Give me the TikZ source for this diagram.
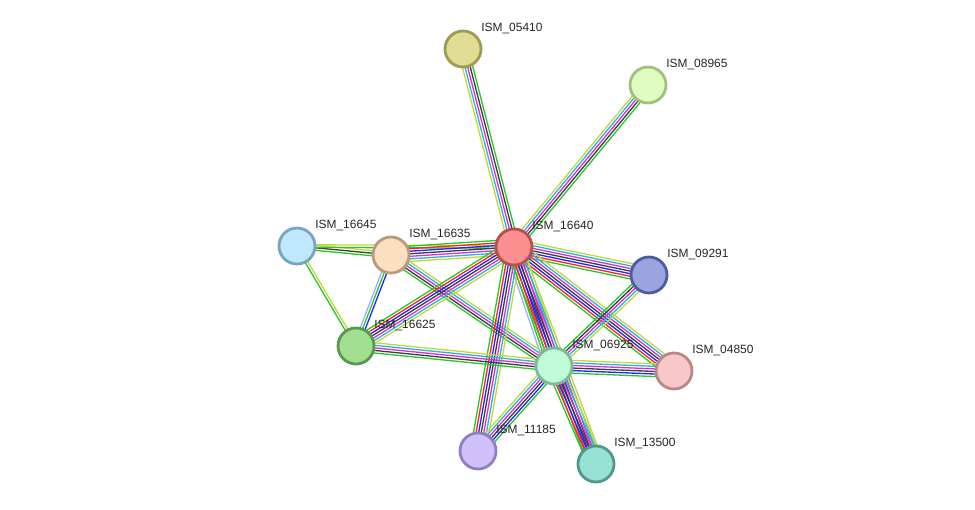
\documentclass[tikz,border=0pt]{standalone}
\usepackage{fontspec}
\setmainfont{Liberation Sans}
\usepackage{xcolor}
\usetikzlibrary{calc, math, backgrounds}
% evidence colours
\definecolor{txtm}{RGB}{196,214,58}
\definecolor{dbase}{RGB}{40,182,222}
\definecolor{expt}{RGB}{218,48,220}
\definecolor{coex}{RGB}{62,62,62}
\definecolor{cooc}{RGB}{36,36,255}
\definecolor{fusn}{RGB}{255,36,36}
\definecolor{nbhd}{RGB}{40,200,40}
\definecolor{homo}{RGB}{168,168,255}
% node colours
\definecolor{f05410}{RGB}{224,220,148}\definecolor{d05410}{RGB}{158,154,85}
\definecolor{f08965}{RGB}{224,252,192}\definecolor{d08965}{RGB}{160,192,128}
\definecolor{f16645}{RGB}{192,232,252}\definecolor{d16645}{RGB}{120,164,192}
\definecolor{f16635}{RGB}{252,222,192}\definecolor{d16635}{RGB}{184,154,124}
\definecolor{f16640}{RGB}{252,144,144}\definecolor{d16640}{RGB}{180,80,80}
\definecolor{f09291}{RGB}{156,164,224}\definecolor{d09291}{RGB}{80,90,160}
\definecolor{f16625}{RGB}{160,224,144}\definecolor{d16625}{RGB}{90,154,80}
\definecolor{f06925}{RGB}{192,252,216}\definecolor{d06925}{RGB}{128,184,152}
\definecolor{f04850}{RGB}{248,200,200}\definecolor{d04850}{RGB}{184,136,136}
\definecolor{f11185}{RGB}{208,192,252}\definecolor{d11185}{RGB}{144,128,192}
\definecolor{f13500}{RGB}{152,224,212}\definecolor{d13500}{RGB}{80,152,140}
% one bundle of parallel lines between two nodes
\newcommand{\bundle}[3]{%
  \def\nlin{0}%
  \foreach \c in {#3}{\pgfmathtruncatemacro\tmp{\nlin+1}\global\let\nlin\tmp}%
  \foreach \c [count=\i] in {#3}{%
    \pgfmathsetmacro\off{(\i-(\nlin+1)/2)*\gap}%
    \draw[\c, line width=\lw pt] ($(#1)!\off pt!90:(#2)$) -- ($(#2)!\off pt!-90:(#1)$);
  }}

\begin{document}
\begin{tikzpicture}[x=0.02cm, y=-0.02cm,
  prot/.style={circle, minimum size=0.72cm, inner sep=0pt, line width=1.6pt},
  lbl/.style={anchor=west, inner sep=0pt, text=black!85, font=\fontsize{6.8}{8}\selectfont}]
\tikzmath{
\gap=1.45;
\lw=0.75;
}
\useasboundingbox (0,0) rectangle (975,510);

%proteins
\node[prot, fill=f05410, draw=d05410] (n05410) at (463,49) {};
\node[prot, fill=f08965, draw=d08965] (n08965) at (648,85) {};
\node[prot, fill=f16645, draw=d16645] (n16645) at (297,246) {};
\node[prot, fill=f16635, draw=d16635] (n16635) at (391,255) {};
\node[prot, fill=f16640, draw=d16640] (n16640) at (514,247) {};
\node[prot, fill=f09291, draw=d09291] (n09291) at (649,275) {};
\node[prot, fill=f16625, draw=d16625] (n16625) at (356,346) {};
\node[prot, fill=f06925, draw=d06925] (n06925) at (554,366) {};
\node[prot, fill=f04850, draw=d04850] (n04850) at (674,371) {};
\node[prot, fill=f11185, draw=d11185] (n11185) at (478,451) {};
\node[prot, fill=f13500, draw=d13500] (n13500) at (596,464) {};

%labels
\foreach \p in {05410,08965,16645,16635,16640,09291,16625,06925,04850,11185,13500}
  \node[lbl] (t\p) at ($(n\p)+(18,-20)$) {ISM\_\p};

%edges
\begin{pgfonlayer}{background}
\bundle{n05410}{n16640}{txtm,dbase,expt,coex,nbhd}
\bundle{n08965}{n16640}{txtm,dbase,expt,coex,nbhd}
\bundle{n16635}{n16645}{txtm,coex,nbhd}
\bundle{n16640}{n16645}{txtm,nbhd}
\bundle{n16625}{n16645}{txtm,nbhd}
\bundle{n16635}{n16640}{txtm,dbase,expt,coex,cooc,fusn,nbhd}
\bundle{n16625}{n16635}{cooc,nbhd,homo}
\bundle{n06925}{n16635}{txtm,dbase,expt,coex,nbhd}
\bundle{n16625}{n16640}{txtm,dbase,expt,coex,cooc,fusn,nbhd}
\bundle{n09291}{n16640}{txtm,dbase,expt,coex,cooc,fusn,nbhd}
\bundle{n04850}{n16640}{txtm,dbase,expt,coex,cooc,fusn,nbhd}
\bundle{n06925}{n16640}{txtm,dbase,expt,coex,cooc,fusn,nbhd,homo}
\bundle{n11185}{n16640}{txtm,dbase,expt,coex,cooc,fusn,nbhd}
\bundle{n13500}{n16640}{txtm,dbase,expt,coex,cooc,fusn,nbhd}
\bundle{n06925}{n16625}{txtm,dbase,expt,coex,nbhd}
\bundle{n06925}{n09291}{txtm,dbase,expt,coex,nbhd}
\bundle{n04850}{n06925}{txtm,dbase,expt,coex,cooc,nbhd}
\bundle{n06925}{n11185}{txtm,dbase,expt,coex,cooc,nbhd}
\bundle{n13500}{n06925}{txtm,dbase,expt,coex,cooc,fusn,nbhd}
\end{pgfonlayer}
\end{tikzpicture}
\end{document}
